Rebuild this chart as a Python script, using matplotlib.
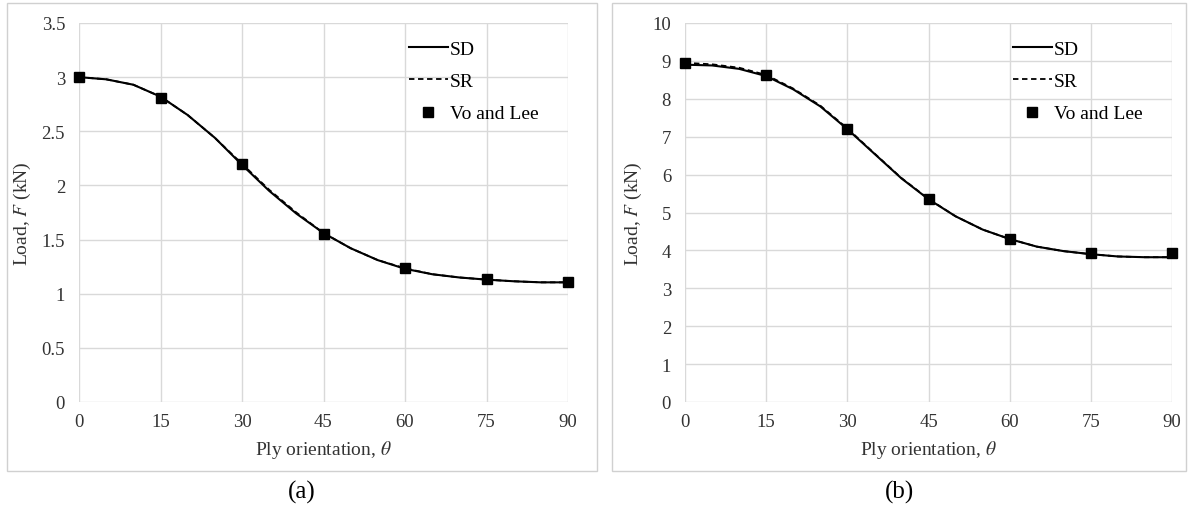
import matplotlib.pyplot as plt
from matplotlib.patches import Rectangle

plt.rcParams['font.family'] = ['Liberation Serif', 'DejaVu Serif']
plt.rcParams['mathtext.fontset'] = 'stix'

# ply orientation for the smooth curves
theta = [0, 5, 10, 15, 20, 25, 30, 35, 40, 45, 50, 55, 60, 65, 70, 75, 80, 85, 90]
# discrete reference points
theta_pts = [0, 15, 30, 45, 60, 75, 90]

# panel (a)
sd_a = [3.0, 2.98, 2.93, 2.82, 2.65, 2.44, 2.19, 1.95, 1.74, 1.56, 1.42, 1.31,
        1.23, 1.18, 1.15, 1.13, 1.115, 1.105, 1.105]
sr_a = [3.0, 2.98, 2.93, 2.82, 2.65, 2.44, 2.20, 1.96, 1.75, 1.56, 1.42, 1.31,
        1.235, 1.18, 1.15, 1.13, 1.115, 1.105, 1.105]
vo_a = [3.0, 2.81, 2.2, 1.555, 1.235, 1.135, 1.11]

# panel (b)
sd_b = [8.9, 8.88, 8.79, 8.6, 8.25, 7.8, 7.2, 6.55, 5.9, 5.35, 4.9, 4.55,
        4.3, 4.1, 3.98, 3.9, 3.84, 3.82, 3.82]
sr_b = [8.95, 8.91, 8.82, 8.63, 8.27, 7.82, 7.22, 6.56, 5.91, 5.36, 4.9, 4.55,
        4.3, 4.1, 3.98, 3.9, 3.84, 3.82, 3.82]
vo_b = [8.95, 8.62, 7.2, 5.36, 4.3, 3.92, 3.92]

fig = plt.figure(figsize=(11.94, 5.10), dpi=100)
W, H = 1194, 510

panels = [
    # axes box (px), border box (px), data, ylim, yticks, label
    ((79, 24, 568, 403), (7, 4, 597, 472), sd_a, sr_a, vo_a, 3.5,
     [0, 0.5, 1, 1.5, 2, 2.5, 3, 3.5], ['0', '0.5', '1', '1.5', '2', '2.5', '3', '3.5'], '(a)'),
    ((685, 24, 1172, 403), (612, 4, 1186, 472), sd_b, sr_b, vo_b, 10,
     list(range(0, 11)), [str(v) for v in range(0, 11)], '(b)'),
]

for box, border, sd, sr, vo, ymax, yt, ytl, lab in panels:
    x0, y0, x1, y1 = box
    ax = fig.add_axes([x0 / W, 1 - y1 / H, (x1 - x0) / W, (y1 - y0) / H])
    ax.plot(theta, sd, color='black', lw=1.5, label='SD')
    ax.plot(theta, sr, color='black', lw=1.3, ls=(0, (3, 2)), label='SR')
    ax.plot(theta_pts, vo, ls='none', marker='s', ms=7, color='black',
            label='Vo and Lee', clip_on=False, zorder=5)
    ax.set_xlim(0, 90)
    ax.set_ylim(0, ymax)
    ax.set_xticks(theta_pts)
    ax.set_yticks(yt)
    ax.set_yticklabels(ytl)
    ax.grid(True, color='#d9d9d9', lw=1)
    ax.set_axisbelow(True)
    for s in ax.spines.values():
        s.set_visible(False)
    ax.tick_params(length=0, labelsize=13.5, pad=8, colors='#333333')
    ax.tick_params(axis='y', pad=10)
    ax.set_xlabel(r'Ply orientation, $\theta$', fontsize=14, color='#333333', labelpad=6)
    ax.set_ylabel(r'Load, $F$ (kN)', fontsize=14, color='#333333', labelpad=6)
    ax.legend(loc='upper right', bbox_to_anchor=(0.975, 1.0), frameon=False,
              fontsize=14, handlelength=2.0, handletextpad=0.1, labelspacing=0.75)

    bx0, by0, bx1, by1 = border
    fig.patches.append(Rectangle((bx0 / W, 1 - by1 / H), (bx1 - bx0) / W, (by1 - by0) / H,
                                 transform=fig.transFigure, fill=False,
                                 edgecolor='#d0d0d0', lw=1))
    fig.text((bx0 + bx1) / 2 / W, 1 - 492 / H, lab, ha='center', va='center', fontsize=18)

fig.savefig('out.png', dpi=100)
